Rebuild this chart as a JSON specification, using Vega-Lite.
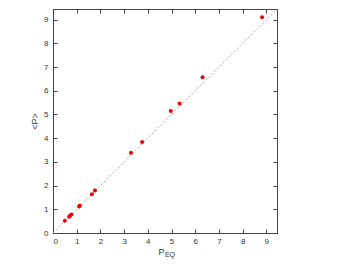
{
  "$schema": "https://vega.github.io/schema/vega-lite/v6.json",
  "width": 224,
  "height": 224,
  "autosize": "none",
  "padding": {"left": 53, "top": 9, "right": 70, "bottom": 31},
  "background": "white",
  "title": {"text": "EQ", "orient": "bottom", "fontSize": 7, "font": "Liberation Sans", "fontWeight": "normal", "color": "#333", "offset": -5, "dx": 5},
  "config": {
    "view": {"stroke": "#444", "strokeWidth": 1},
    "axis": {"grid": false, "labelFont": "Liberation Sans", "titleFont": "Liberation Sans", "labelFontSize": 8, "titleFontSize": 9, "labelColor": "#333", "titleColor": "#333", "titleFontWeight": "normal", "domainColor": "#444", "tickColor": "#444", "tickSize": -4}
  },
  "datasets": {
    "pts": [
      {"peq": 0.50, "p": 0.52},
      {"peq": 0.68, "p": 0.69},
      {"peq": 0.73, "p": 0.74},
      {"peq": 0.78, "p": 0.78},
      {"peq": 1.10, "p": 1.12},
      {"peq": 1.13, "p": 1.15},
      {"peq": 1.64, "p": 1.63},
      {"peq": 1.77, "p": 1.79},
      {"peq": 3.29, "p": 3.39},
      {"peq": 3.76, "p": 3.84},
      {"peq": 4.97, "p": 5.15},
      {"peq": 5.34, "p": 5.46},
      {"peq": 6.31, "p": 6.57},
      {"peq": 8.82, "p": 9.10}
    ],
    "diag": [
      {"peq": 0, "p": 0},
      {"peq": 9.45, "p": 9.45}
    ]
  },
  "layer": [
    {
      "data": {"name": "diag"},
      "mark": {"type": "line", "color": "#999", "strokeWidth": 0.8, "strokeDash": [2, 2], "clip": true},
      "encoding": {
        "x": {"field": "peq", "type": "quantitative", "scale": {"domain": [0, 9.45], "nice": false},
              "axis": {"orient": "top", "labels": false, "title": null, "values": [0,1,2,3,4,5,6,7,8,9]}},
        "y": {"field": "p", "type": "quantitative", "scale": {"domain": [0, 9.45], "nice": false},
              "axis": {"orient": "right", "labels": false, "title": null, "values": [0,1,2,3,4,5,6,7,8,9]}}
      }
    },
    {
      "data": {"name": "pts"},
      "mark": {"type": "circle", "color": "#ee0000", "opacity": 1, "size": 16},
      "encoding": {
        "x": {"field": "peq", "type": "quantitative", "scale": {"domain": [0, 9.45], "nice": false},
              "axis": {"orient": "bottom", "title": "P", "values": [0,1,2,3,4,5,6,7,8,9], "labelPadding": 8, "titlePadding": 2, "titleX": 108}},
        "y": {"field": "p", "type": "quantitative", "scale": {"domain": [0, 9.45], "nice": false},
              "axis": {"orient": "left", "title": "<P>", "values": [0,1,2,3,4,5,6,7,8,9], "labelPadding": 9, "titlePadding": 4}}
      }
    }
  ],
  "resolve": {"axis": {"x": "independent", "y": "independent"}}
}
